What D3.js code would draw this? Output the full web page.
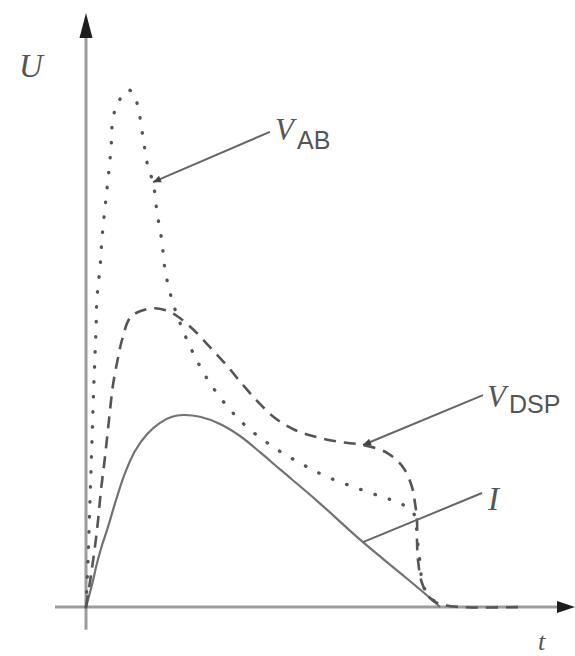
<!DOCTYPE html>
<html>
<head>
<meta charset="utf-8">
<script src="https://cdn.jsdelivr.net/npm/d3@7"></script>
<style>
  html, body { margin: 0; padding: 0; background: #fff; }
  svg { display: block; }
  .ital { font-family: "Liberation Serif", "DejaVu Serif", serif; font-style: italic; fill: #555; }
  .sub { font-family: "Liberation Sans", Arial, sans-serif; font-style: normal; fill: #555; }
</style>
</head>
<body>
<svg id="chart" width="575" height="656"></svg>
<script>
/* Sketch of U(t): current I, V_AB (dotted) and V_DSP (dashed). Units are arbitrary. */

// current I (solid)
const iT = [0, 1.2, 2.2, 3.2, 4.2, 6.0, 7.8, 9.8, 12.2, 14.8, 17.2, 19.4, 22.8, 26.8, 30.8, 34.8, 39.0, 46.2, 55.4, 62.8, 68.8, 70.8];
const iU = [0, 3.7, 7.3, 10.3, 12.8, 17.8, 22.3, 26.0, 28.8, 30.7, 31.7, 32.0, 31.7, 30.5, 28.5, 25.8, 22.8, 17.7, 10.8, 5.7, 1.5, 0];

// V_AB (dotted)
const abT = [0, 0.4, 0.8, 1.2, 1.6, 2.0, 2.2, 2.8, 3.2, 3.8, 4.4, 5.0, 5.4, 6.4, 8.2, 9.4, 10.4, 11.4, 12.4, 13.4, 14.2, 15.2, 15.8, 17.2, 19.2, 21.8, 24.8, 28.4, 32.2, 37.4, 42.8, 48.2, 54.2, 59.4, 62.8, 65.4, 66.0, 66.4, 66.8, 67.4, 68.8, 70.8];
const abU = [0, 7.8, 17.8, 27.8, 37.8, 46.2, 51.5, 56.5, 61.5, 66.5, 71.2, 76.5, 81.5, 84.0, 86.2, 85.7, 83.3, 78.3, 73.3, 70.8, 65.8, 60.8, 56.2, 51.2, 46.5, 41.7, 37.3, 33.3, 30.0, 26.7, 24.0, 21.7, 19.8, 18.3, 17.3, 15.8, 13.7, 10.3, 7.5, 3.7, 1.7, 0.2];

// V_DSP (dashed)
const dspT = [0, 1.0, 2.2, 3.0, 3.8, 4.6, 5.4, 6.4, 7.2, 8.8, 10.8, 13.4, 15.8, 18.2, 21.4, 24.8, 28.2, 31.4, 34.4, 37.8, 41.8, 46.2, 50.8, 55.4, 60.2, 63.4, 65.2, 65.8, 66.2, 66.2, 66.4, 67.2, 68.8, 70.8, 74.8, 87.2];
const dspU = [0, 5.3, 12.8, 19.5, 25.0, 31.2, 37.0, 41.5, 44.5, 48.2, 49.3, 49.8, 49.5, 48.5, 46.3, 43.3, 40.2, 37.0, 34.2, 31.5, 29.5, 28.3, 27.5, 27.0, 25.7, 23.3, 20.0, 17.3, 14.5, 11.2, 7.8, 4.0, 1.5, 0.5, 0, 0];

// leader lines: [t, U] on the curve -> [t, U] at the label
const leaderNames = ["AB", "DSP", "I"];
const leaderFrom = [[13.4, 70.8], [55.4, 27.0], [55.4, 10.8]];
const leaderTo = [[36.8, 79.2], [79.4, 35.3], [79.2, 19.0]];

const x = d3.scaleLinear().domain([0, 100]).range([86, 586]);
const y = d3.scaleLinear().domain([0, 100]).range([607, 7]);

const svg = d3.select("#chart");

/* ---------- AXES ---------- */

const axisColor = "#9c9c9c";
svg.append("line")
  .attr("x1", x(-6.2)).attr("y1", y(0)).attr("x2", x(95)).attr("y2", y(0))
  .attr("stroke", axisColor).attr("stroke-width", 3);
svg.append("line")
  .attr("x1", x(0)).attr("y1", y(-3.8)).attr("x2", x(0)).attr("y2", y(96))
  .attr("stroke", axisColor).attr("stroke-width", 3);

// arrow heads
const yTip = y(99);
svg.append("path")
  .attr("d", "M" + x(0) + "," + yTip + "L" + (x(0) + 6.5) + "," + (yTip + 25) + "L" + (x(0) - 6.5) + "," + (yTip + 25) + "Z")
  .attr("fill", "#1e1e1e");
const xTip = x(97.8);
svg.append("path")
  .attr("d", "M" + xTip + "," + y(0) + "L" + (xTip - 18) + "," + (y(0) - 6) + "L" + (xTip - 18) + "," + (y(0) + 6) + "Z")
  .attr("fill", "#1e1e1e");

/* ---------- CURVES ---------- */

const line = d3.line()
  .x(function (d) { return x(d[0]); })
  .y(function (d) { return y(d[1]); })
  .curve(d3.curveCatmullRom.alpha(0.5));

function pairs(ts, us) { return ts.map(function (t, i) { return [t, us[i]]; }); }

svg.append("path")
  .datum(pairs(iT, iU))
  .attr("d", line)
  .attr("fill", "none")
  .attr("stroke", "#727272")
  .attr("stroke-width", 2.2);

svg.append("path")
  .datum(pairs(dspT, dspU))
  .attr("d", line)
  .attr("fill", "none")
  .attr("stroke", "#555")
  .attr("stroke-width", 2.6)
  .attr("stroke-dasharray", "12,8");

svg.append("path")
  .datum(pairs(abT, abU))
  .attr("d", line)
  .attr("fill", "none")
  .attr("stroke", "#555")
  .attr("stroke-width", 3.3)
  .attr("stroke-linecap", "round")
  .attr("stroke-dasharray", "0.5,14.5");

/* ---------- LEADERS ---------- */

leaderNames.forEach(function (name, i) {
  const a = leaderFrom[i], b = leaderTo[i];
  const x1 = x(a[0]), y1 = y(a[1]), x2 = x(b[0]), y2 = y(b[1]);
  svg.append("line")
    .attr("x1", x1).attr("y1", y1).attr("x2", x2).attr("y2", y2)
    .attr("stroke", "#666").attr("stroke-width", 2);
  if (name !== "I") {
    // small head where the leader touches the curve
    const ang = Math.atan2(y1 - y2, x1 - x2);
    const L = 8, w = 3.5;
    const bx = x1 - Math.cos(ang) * L, by = y1 - Math.sin(ang) * L;
    svg.append("path")
      .attr("d", "M" + x1 + "," + y1 +
        "L" + (bx - Math.sin(ang) * w) + "," + (by + Math.cos(ang) * w) +
        "L" + (bx + Math.sin(ang) * w) + "," + (by - Math.cos(ang) * w) + "Z")
      .attr("fill", "#444");
  }
});

/* ---------- LABELS ---------- */

svg.append("text").attr("class", "ital")
  .attr("x", 19).attr("y", 77).attr("font-size", 33).text("U");

svg.append("text").attr("class", "ital")
  .attr("x", 538).attr("y", 650).attr("font-size", 26).text("t");

const vab = svg.append("text").attr("class", "ital").attr("x", 275).attr("y", 140).attr("font-size", 31);
vab.append("tspan").text("V");
vab.append("tspan").attr("class", "sub").attr("x", 297).attr("y", 149).attr("font-size", 25).text("AB");

const vdsp = svg.append("text").attr("class", "ital").attr("x", 487).attr("y", 407).attr("font-size", 31);
vdsp.append("tspan").text("V");
vdsp.append("tspan").attr("class", "sub").attr("x", 509).attr("y", 413).attr("font-size", 25).text("DSP");

svg.append("text").attr("class", "ital")
  .attr("x", 488).attr("y", 510).attr("font-size", 33).text("I");
</script>
</body>
</html>
